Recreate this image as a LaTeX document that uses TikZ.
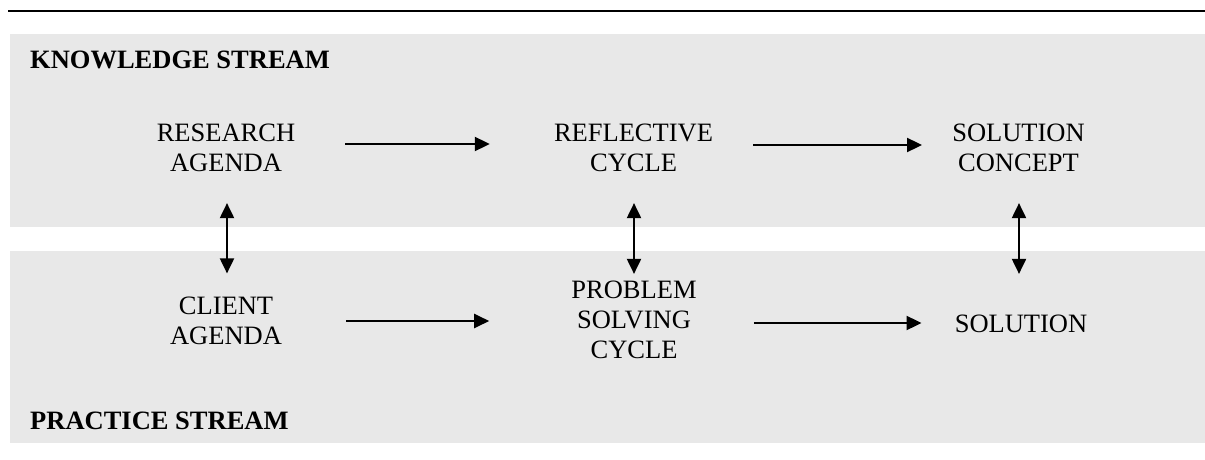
\documentclass[tikz,border=0pt]{standalone}
\usepackage{fontspec}
\setmainfont{Liberation Serif}
\usetikzlibrary{arrows.meta}
\definecolor{bandgray}{RGB}{232,232,232}
\begin{document}
\begin{tikzpicture}[x=1pt,y=-1pt,
  label/.style={font=\fontsize{26.5}{30}\selectfont, align=center, inner sep=0pt},
  streamtitle/.style={font=\fontsize{26.5}{30}\selectfont\bfseries, inner sep=0pt, anchor=base west},
  arr/.style={line width=2pt, -{Triangle[length=15pt,width=14pt]}},
  dblarr/.style={line width=2pt, {Triangle[length=15pt,width=14pt]}-{Triangle[length=15pt,width=14pt]}}]
  \useasboundingbox (0,0) rectangle (1205,460);
  % top rule and the two stream bands
  \draw[line width=2.5pt] (8,11) -- (1205,11);
  \fill[bandgray] (10,34) rectangle (1205,227);
  \fill[bandgray] (10,251) rectangle (1205,443);
  % stream titles
  \node[streamtitle] (kst) at (30,69) {KNOWLEDGE STREAM};
  \node[streamtitle] (pst) at (30,429) {PRACTICE STREAM};
  % knowledge stream
  \node[label] (ra) at (226,148) {RESEARCH\\AGENDA};
  \node[label] (rc) at (633.5,148) {REFLECTIVE\\CYCLE};
  \node[label] (sc) at (1018.5,148) {SOLUTION\\CONCEPT};
  % practice stream
  \node[label] (ca) at (226,320.5) {CLIENT\\AGENDA};
  \node[label] (ps) at (634,320) {PROBLEM\\SOLVING\\CYCLE};
  \node[label] (so) at (1021,324) {SOLUTION};
  % flow along each stream
  \draw[arr] ([xshift=50pt,yshift=4pt]ra.east) -- ([xshift=-64pt,yshift=4pt]rc.west);
  \draw[arr] ([xshift=40pt,yshift=3pt]rc.east) -- ([xshift=-30pt,yshift=3pt]sc.west);
  \draw[arr] ([xshift=64pt,yshift=-0.5pt]ca.east) -- ([xshift=-82pt,yshift=-1pt]ps.west);
  \draw[arr] ([xshift=57pt,yshift=-3pt]ps.east) -- ([xshift=-33pt,yshift=1pt]so.west);
  % exchange between the streams
  \draw[dblarr] ([xshift=1pt,yshift=-31pt]ra.south) -- ([xshift=1pt,yshift=23pt]ca.north);
  \draw[dblarr] ([xshift=0.5pt,yshift=-31pt]rc.south) -- ([yshift=7pt]ps.north);
  \draw[dblarr] ([xshift=0.5pt,yshift=-31pt]sc.south) -- ([xshift=-2pt,yshift=41pt]so.north);
\end{tikzpicture}
\end{document}
